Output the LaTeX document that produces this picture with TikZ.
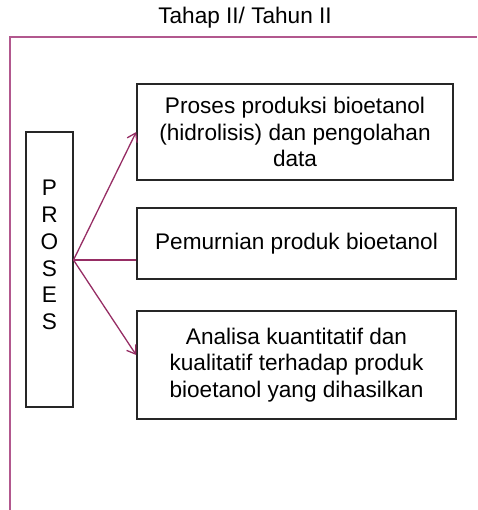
\documentclass[tikz,border=0pt]{standalone}
\usepackage{fontspec}
\setmainfont{Liberation Sans}
\usetikzlibrary{arrows.meta}
\definecolor{framec}{RGB}{178,88,142}
\definecolor{arrowc}{RGB}{150,45,100}
\begin{document}
\begin{tikzpicture}[x=1pt,y=-1pt,
  every node/.style={font=\fontsize{22.6}{26.7}\selectfont, inner sep=0pt},
  stepbox/.style={draw=black!85, line width=1.6pt, align=center},
  link/.style={draw=arrowc, line width=1.3pt},
  tip/.style={-{Straight Barb[length=8pt,width=11pt]}}]
\useasboundingbox (0,0) rectangle (477,510);

% heading and the open frame below it
\node (title) at (245,18) {Tahap II/ Tahun II};
\draw[framec, line width=1.6pt] (10,510) -- (10,37) -- (477,37);

% vertical stage box
\node[stepbox, minimum width=47pt, minimum height=275pt] (proses) at (49.5,269.5) {};
\node[align=center] (proseslbl) at (49.5,255) {P\\R\\O\\S\\E\\S};

% activity boxes
\node[stepbox, minimum width=316pt, minimum height=96pt] (b1) at (295,132)
  {Proses produksi bioetanol\\(hidrolisis) dan pengolahan\\data};
\node[stepbox, minimum width=319pt, minimum height=71pt] (b2) at (296.5,243.5)
  {Pemurnian produk bioetanol};
\node[stepbox, minimum width=319pt, minimum height=108pt] (b3) at (296.5,365)
  {Analisa kuantitatif dan\\kualitatif terhadap produk\\bioetanol yang dihasilkan};

% connectors fanning out from the stage box
\coordinate (fork) at (73.5,260);
\draw[link, tip] (fork) -- (b1.west);
\draw[link] (fork) -- (fork -| b2.west);
\draw[link, tip] (fork) -- ([yshift=10pt]b3.west);
\end{tikzpicture}
\end{document}
